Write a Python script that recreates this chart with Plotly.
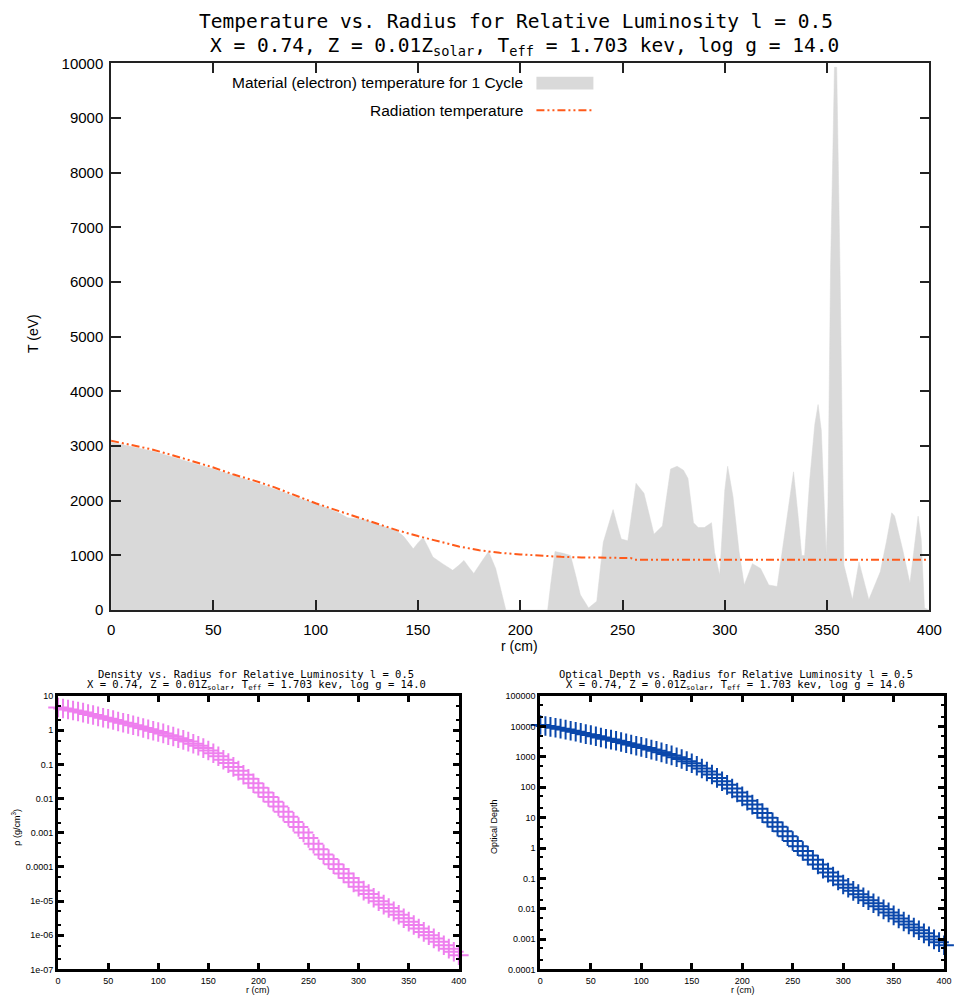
import plotly.graph_objects as go

# ---------------- Top panel data ----------------
mat_r = [0, 5, 11.5, 20, 27.5, 35, 43.5, 50, 59.5, 67, 75.6, 84, 91.6, 100, 107.6, 112, 115.6, 119,
         123.6, 130, 139.7, 143, 147.7, 150, 152.5, 155, 157.3, 162, 167, 170, 172.5, 175, 177.3, 181,
         184.5, 188, 190.5, 193, 200, 205, 213.4, 215, 217, 221, 224.6, 227, 229.4, 233.4, 237.4, 240.6,
         243, 245.4, 247.5, 249.4, 252.6, 256.6, 260.5, 263, 265.4, 269.5, 271, 273.5, 276.7, 279.8, 282,
         284.7, 287, 290, 293.5, 295, 297.5, 300, 301.4, 304, 307, 309.5, 313.5, 317.5, 321.5, 325.6, 328,
         331, 333.6, 336, 337.6, 339, 341.5, 344, 345.6, 347.2, 348.8, 349.6, 350.4, 351.0, 351.7, 352.8,
         353.6, 354.7, 355.5, 356.3, 357.1, 357.6, 358.2, 362.4, 365.6, 370.4, 373, 376, 379, 381.6, 383,
         387, 390.5, 392.5, 394.5, 396, 397.6, 400]
mat_T = [3070, 3030, 2980, 2910, 2830, 2740, 2650, 2580, 2470, 2370, 2272, 2160, 2050, 1950, 1840, 1770,
         1690, 1680, 1660, 1570, 1450, 1350, 1121, 1230, 1331, 1150, 971, 850, 730, 820, 910, 780, 671, 880,
         1072, 761, 400, 0, 0, 0, 0, 500, 1072, 1040, 1000, 650, 281, 41, 162, 1241,
         1550, 1840, 1550, 1300, 1270, 2320, 2140, 1780, 1390, 1540, 1960, 2580, 2632, 2560, 2410,
         1600, 1510, 1510, 1600, 1060, 640, 2200, 2632, 2080, 1062, 461, 851, 761, 461, 432, 1060,
         1900, 2530, 1660, 1000, 1000, 2380, 3400, 3760, 3280, 1780, 1000, 1900, 4100, 6280, 8350,
         9930, 9930, 8350, 6280, 4100, 2200, 830, 191, 881, 191, 420, 701, 1250, 1781, 1720,
         1100, 491, 1100, 1720, 1300, 40, 0]

rad_r = [0, 10, 20, 30, 40, 50, 60, 70, 80, 90, 100, 110, 120, 130, 140, 150, 160, 170, 180, 190, 200,
         210, 220, 230, 240, 250, 254, 256, 270, 290, 310, 330, 350, 370, 380, 385, 390, 395, 400]
rad_T = [3100, 3020, 2940, 2835, 2725, 2610, 2480, 2370, 2245, 2095, 1955, 1830, 1705, 1580, 1460, 1355,
         1260, 1165, 1095, 1050, 1020, 992, 975, 965, 957, 953, 953, 923, 923, 923, 923, 923, 923, 923,
         923, 935, 935, 928, 923]

# ---------------- Bottom panels data ----------------
r_grid = [0, 5, 10, 15, 20, 25, 30, 35, 40, 45, 50, 55, 60, 65, 70, 75, 80, 85, 90, 95, 100,
          105, 110, 115, 120, 125, 130, 135, 140, 145, 150, 155, 160, 165, 170, 175, 180, 185, 190, 195, 200,
          205, 210, 215, 220, 225, 230, 235, 240, 245, 250, 255, 260, 265, 270, 275, 280, 285, 290, 295, 300,
          305, 310, 315, 320, 325, 330, 335, 340, 345, 350, 355, 360, 365, 370, 375, 380, 385, 390, 395, 400]

density = [4.68, 4.37, 4.07, 3.80, 3.55, 3.31, 3.02, 2.82, 2.57, 2.34, 2.19, 2.00, 1.82, 1.66, 1.55, 1.41,
           1.29, 1.17, 1.07, 0.977, 0.891, 0.813, 0.724, 0.661, 0.589, 0.525, 0.468, 0.407, 0.355, 0.302,
           0.257, 0.214, 0.174, 0.138, 0.110, 0.0851, 0.0661, 0.0501, 0.0380, 0.0282, 0.0209, 0.0151,
           0.0112, 0.00813, 0.00589, 0.00417, 0.00295, 0.00209, 0.00148, 0.00102, 0.000708, 0.000479,
           0.000331, 0.000234, 0.000170, 0.000120, 8.71e-5, 6.46e-5, 4.79e-5, 3.55e-5, 2.63e-5, 2.04e-5,
           1.62e-5, 1.26e-5, 1.00e-5, 7.94e-6, 6.31e-6, 5.01e-6, 3.98e-6, 3.16e-6, 2.51e-6, 2.00e-6,
           1.58e-6, 1.26e-6, 1.00e-6, 8.13e-7, 6.46e-7, 5.13e-7, 4.07e-7, 3.31e-7, 2.63e-7]

optical_depth = [11220, 10470, 9772, 9120, 8511, 7943, 7244, 6761, 6166, 5623, 5248, 4786, 4365, 3981,
                 3715, 3388, 3090, 2818, 2570, 2344, 2138, 1950, 1738, 1585, 1413, 1259, 1122, 977, 851,
                 724, 617, 513, 417, 331, 263, 204, 158, 120, 91.2, 67.6, 50.1, 36.3, 26.9, 19.5, 14.1,
                 10.0, 7.08, 5.01, 3.55, 2.45, 1.70, 1.15, 0.794, 0.562, 0.407, 0.288, 0.209, 0.155,
                 0.115, 0.0851, 0.0631, 0.0490, 0.0389, 0.0302, 0.0240, 0.0191, 0.0151, 0.0120, 0.00955,
                 0.00759, 0.00603, 0.00479, 0.00380, 0.00302, 0.00240, 0.00195, 0.00155, 0.00123,
                 0.000977, 0.000794, 0.000631]

top_xticks = [0, 50, 100, 150, 200, 250, 300, 350, 400]
top_yticks = [0, 1000, 2000, 3000, 4000, 5000, 6000, 7000, 8000, 9000, 10000]
top_yticktext = ["0", "1000", "2000", "3000", "4000", "5000", "6000", "7000", "8000", "9000", "10000"]
dens_tickvals = [10, 1, 0.1, 0.01, 0.001, 0.0001, 1e-5, 1e-6, 1e-7]
dens_ticktext = ["10", "1", "0.1", "0.01", "0.001", "0.0001", "1e-05", "1e-06", "1e-07"]
tau_tickvals = [100000, 10000, 1000, 100, 10, 1, 0.1, 0.01, 0.001, 0.0001]
tau_ticktext = ["100000", "10000", "1000", "100", "10", "1", "0.1", "0.01", "0.001", "0.0001"]

W, H = 963, 1005
def px(x):
    return x / W
def py(y):
    return 1 - y / H

GRAY = "#d9d9d9"
ORANGE = "#ff5a1a"
VIOLET = "#ee7fee"
BLUE = "#0a47ab"
SANS = "Liberation Sans, Arial, sans-serif"
MONO = "DejaVu Sans Mono, monospace"

fig = go.Figure()

fig.add_trace(go.Scatter(x=mat_r, y=mat_T, mode="lines", fill="tozeroy", fillcolor=GRAY,
                         line=dict(color=GRAY, width=0.5), showlegend=False,
                         xaxis="x", yaxis="y"))
fig.add_trace(go.Scatter(x=rad_r, y=rad_T, mode="lines",
                         line=dict(color=ORANGE, width=2, dash="8px,3px,2px,3px,2px,3px"),
                         showlegend=False, xaxis="x", yaxis="y"))

fig.add_trace(go.Scatter(x=r_grid, y=density, mode="markers", cliponaxis=False,
                         marker=dict(symbol="cross-thin", size=14, line=dict(width=2, color=VIOLET)),
                         showlegend=False, xaxis="x2", yaxis="y2"))
fig.add_trace(go.Scatter(x=r_grid, y=optical_depth, mode="markers", cliponaxis=False,
                         marker=dict(symbol="cross-thin", size=14, line=dict(width=2, color=BLUE)),
                         showlegend=False, xaxis="x3", yaxis="y3"))

top_axis = dict(showgrid=False, zeroline=False, showline=True, linecolor="#222", linewidth=1.5,
                mirror="allticks", ticks="inside", ticklen=10, tickwidth=1.5, tickcolor="#222",
                tickfont=dict(family=SANS, size=15, color="black"))
bot_axis = dict(showgrid=False, zeroline=False, showline=True, linecolor="black", linewidth=3,
                mirror="allticks", ticks="inside", ticklen=6, tickwidth=3, tickcolor="black",
                tickfont=dict(family=SANS, size=9, color="black"))

fig.update_layout(
    width=W, height=H, margin=dict(l=0, r=0, t=0, b=0),
    paper_bgcolor="white", plot_bgcolor="white", showlegend=False,
    xaxis=dict(top_axis, domain=[px(109), px(942)], range=[0, 400], tickvals=top_xticks,
               anchor="y", ticklabelstandoff=5),
    yaxis=dict(top_axis, domain=[py(611.5), py(55.4)], range=[0, 10000], tickvals=top_yticks,
               ticktext=top_yticktext, anchor="x", ticklabelstandoff=3),
    xaxis2=dict(bot_axis, domain=[px(55), px(463)], range=[0, 400], tickvals=top_xticks,
                anchor="y2", ticklabelstandoff=1),
    yaxis2=dict(bot_axis, type="log", domain=[py(977), py(699)], range=[-7, 1],
                tickvals=dens_tickvals, ticktext=dens_ticktext, anchor="x2", ticklabelstandoff=0,
                minor=dict(ticks="inside", ticklen=3, tickwidth=2, tickcolor="black", showgrid=False)),
    xaxis3=dict(bot_axis, domain=[px(546), px(957)], range=[0, 400], tickvals=top_xticks,
                anchor="y3", ticklabelstandoff=1),
    yaxis3=dict(bot_axis, type="log", domain=[py(977), py(699)], range=[-4, 5],
                tickvals=tau_tickvals, ticktext=tau_ticktext, anchor="x3", ticklabelstandoff=0,
                minor=dict(ticks="inside", ticklen=3, tickwidth=2, tickcolor="black", showgrid=False)),
)

ann = []
def text(x, y, s, size, family=SANS, xanchor="center", angle=0):
    ann.append(dict(x=px(x), y=py(y), xref="paper", yref="paper", text=s, showarrow=False,
                    xanchor=xanchor, yanchor="middle", textangle=angle, borderpad=0,
                    font=dict(family=family, size=size, color="black")))

sub_line = "X = 0.74, Z = 0.01Z<sub>solar</sub>, T<sub>eff</sub> = 1.703 kev, log g = 14.0"

# top titles
text(521, 13, "Temperature vs. Radius for Relative Luminosity l = 0.5", 19.5, MONO)
text(530, 38, sub_line, 19.5, MONO)
# bottom titles
text(257, 676, "Density vs. Radius for Relative Luminosity l = 0.5", 10.5, MONO)
text(257, 688, sub_line, 10.5, MONO)
text(745, 676, "Optical Depth vs. Radius for Relative Luminosity l = 0.5", 10.5, MONO)
text(745, 688, sub_line, 10.5, MONO)

# axis titles
text(30, 330, "T (eV)", 14, angle=-90)
text(525, 648, "r (cm)", 14)
text(12, 832, "ρ (g/cm<sup>3</sup>)", 9, angle=-90)
text(259, 998, "r (cm)", 9)
text(499, 832, "Optical Depth", 9, angle=-90)
text(752, 998, "r (cm)", 9)

# legend texts
text(529, 75, "Material (electron) temperature for 1 Cycle", 15.5, xanchor="right")
text(529, 103, "Radiation temperature", 15.5, xanchor="right")

fig.update_layout(annotations=ann)

fig.add_shape(type="rect", xref="paper", yref="paper", x0=px(542), x1=px(600), y0=py(82), y1=py(69),
              fillcolor=GRAY, line=dict(width=0))
fig.add_shape(type="line", xref="paper", yref="paper", x0=px(542), x1=px(600), y0=py(103), y1=py(103),
              line=dict(color=ORANGE, width=2, dash="8px,3px,2px,3px,2px,3px"))

fig.write_html("out.html")
